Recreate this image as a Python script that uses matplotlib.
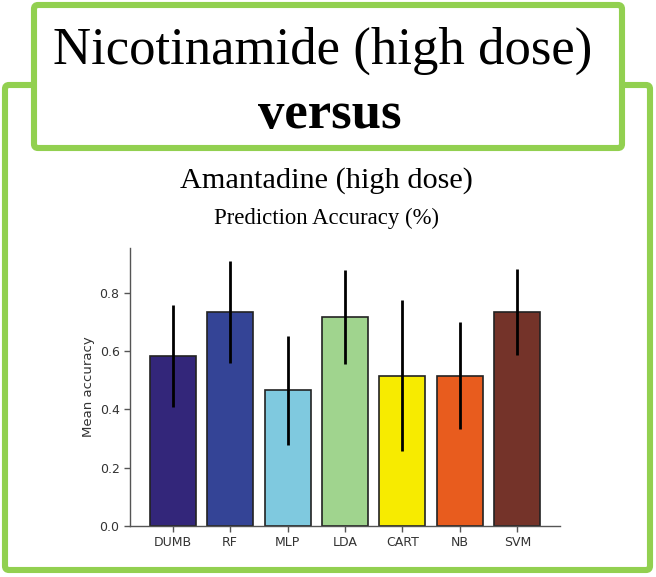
import matplotlib
matplotlib.use("Agg")
import matplotlib.pyplot as plt
from matplotlib.patches import FancyBboxPatch

# ---- data ----
models = ["DUMB", "RF", "MLP", "LDA", "CART", "NB", "SVM"]
mean_acc = [0.583, 0.733, 0.466, 0.717, 0.516, 0.516, 0.733]
err_acc = [0.175, 0.175, 0.187, 0.160, 0.258, 0.184, 0.147]
bar_colors = ["#33267a", "#344496", "#7fc9df", "#a0d48e", "#f7eb00", "#e85c1e", "#743329"]

title_main = "Nicotinamide (high dose)"
title_vs = "versus"
subtitle = "Amantadine (high dose)"
chart_title = "Prediction Accuracy (%)"
ylabel = "Mean accuracy"

W, H = 656, 577
fig = plt.figure(figsize=(W / 100, H / 100), dpi=100)
fig.patch.set_facecolor("white")

# background overlay in pixel coordinates
bg = fig.add_axes([0, 0, 1, 1], zorder=0)
bg.set_xlim(0, W)
bg.set_ylim(H, 0)
bg.axis("off")

green = "#92d050"
outer = FancyBboxPatch((5, 85), 645, 485, boxstyle="round,pad=0,rounding_size=4",
                       facecolor="white", edgecolor=green, linewidth=4.4)
bg.add_patch(outer)
inner = FancyBboxPatch((34, 5), 588, 143, boxstyle="round,pad=0,rounding_size=4",
                       facecolor="white", edgecolor=green, linewidth=4.4)
bg.add_patch(inner)

serif = ["Liberation Serif", "DejaVu Serif"]
bg.text(323, 64, title_main, ha="center", va="baseline", fontsize=38, family=serif)
bg.text(330, 128, title_vs, ha="center", va="baseline", fontsize=38, family=serif,
        fontweight="bold")
bg.text(326, 188, subtitle, ha="center", va="baseline", fontsize=21.8, family=serif)
bg.text(327, 224, chart_title, ha="center", va="baseline", fontsize=16.4, family=serif)

# chart axes
ax = fig.add_axes([130 / W, 1 - 526 / H, 430 / W, 278 / H], zorder=1)
ax.patch.set_alpha(0)
x = list(range(len(models)))
ax.bar(x, mean_acc, width=0.8, color=bar_colors, edgecolor="#222222", linewidth=1.2,
       yerr=err_acc, error_kw=dict(ecolor="black", elinewidth=2, capsize=0))
ax.set_xticks(x)
ax.set_xticklabels(models)
ax.set_yticks([0.0, 0.2, 0.4, 0.6, 0.8])
ax.set_ylabel(ylabel, fontsize=9.5, color="#333333", labelpad=3)
for s in ["top", "right"]:
    ax.spines[s].set_visible(False)
for s in ["left", "bottom"]:
    ax.spines[s].set_color("#555555")
    ax.spines[s].set_linewidth(1.0)
ax.tick_params(axis="both", labelsize=9, colors="#555555", labelcolor="#333333",
               length=4, width=1)

fig.savefig("out.png", dpi=100, facecolor="white")
